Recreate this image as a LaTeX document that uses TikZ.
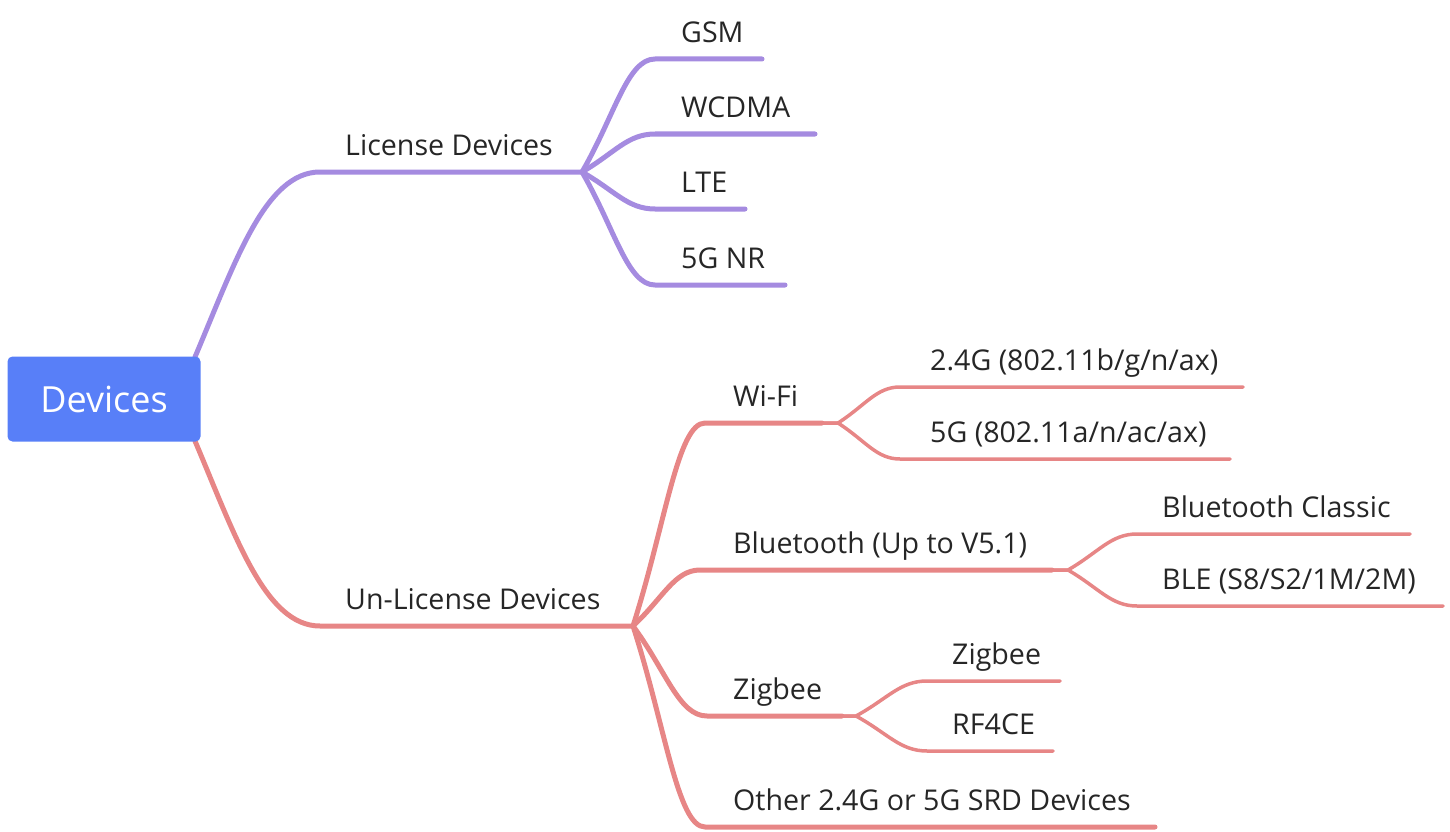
\documentclass[tikz,border=0pt]{standalone}
\usepackage{fontspec}
\setmainfont{Open Sans}
\usetikzlibrary{calc}
\definecolor{pur}{RGB}{165,139,224}
\definecolor{pnk}{RGB}{231,134,134}
\definecolor{rootblue}{RGB}{88,127,248}
\definecolor{txt}{RGB}{38,38,38}
\begin{document}
\begin{tikzpicture}[x=1pt,y=-1pt]
\useasboundingbox (0,0) rectangle (1450,832);
\tikzset{
 curve/.style n args={3}{to path={let \p1=(\tikztostart), \p2=(\tikztotarget) in .. controls ({\x1+#1*(\x2-\x1)},{\y1+#2*(\y2-\y1)}) and ({\x2-#3*(\x2-\x1)},\y2) .. (\tikztotarget)}},
 rootcurve/.style={curve={0.32}{0.51}{0.44}},
 branch/.style={curve={0.45}{0.5}{0.38}},
 thickline/.style={line width=5pt, line cap=round, line join=round},
 thinline/.style={line width=3.5pt, line cap=round, line join=round},
 lbl/.style={anchor=base west, inner sep=0pt, text=txt, font=\fontsize{28.6}{32}\selectfont},
 rootbox/.style={fill=rootblue, rounded corners=5pt, minimum width=193pt, minimum height=85pt, inner sep=0pt, text=white, font=\fontsize{36}{40}\selectfont}
}
% coordinates
\coordinate (r1) at (195,357);
\coordinate (r2) at (195,441);
\coordinate (licS) at (320,172); \coordinate (licJ) at (582,172);
\coordinate (gsmS) at (655,59);  \coordinate (gsmE) at (762,59);
\coordinate (wcdS) at (655,134); \coordinate (wcdE) at (815,134);
\coordinate (lteS) at (655,209); \coordinate (lteE) at (745,209);
\coordinate (nrS) at (655,285);  \coordinate (nrE) at (785,285);
\coordinate (unS) at (320,626);  \coordinate (unJ) at (633,626);
\coordinate (wifiS) at (705,423); \coordinate (wifiE) at (822,423); \coordinate (wifiJ) at (838,423);
\coordinate (btS) at (700,570);  \coordinate (btE) at (1052,570); \coordinate (btJ) at (1068,570);
\coordinate (zgS) at (707,716);  \coordinate (zgE) at (842,716); \coordinate (zgJ) at (856,716);
\coordinate (othS) at (705,827); \coordinate (othE) at (1155,827);
\coordinate (w24S) at (900,387); \coordinate (w24E) at (1243,387);
\coordinate (w5S) at (900,459);  \coordinate (w5E) at (1230,459);
\coordinate (bcS) at (1137,534); \coordinate (bcE) at (1410,534);
\coordinate (bleS) at (1137,606); \coordinate (bleE) at (1443,606);
\coordinate (zg2S) at (927,681); \coordinate (zg2E) at (1060,681);
\coordinate (rfS) at (927,751);  \coordinate (rfE) at (1053,751);
% purple branch
\draw[pur, thickline] (r1) to[rootcurve] (licS) -- (licJ);
\draw[pur, thickline] (licJ) to[branch] (gsmS) -- (gsmE);
\draw[pur, thickline] (licJ) to[branch] (wcdS) -- (wcdE);
\draw[pur, thickline] (licJ) to[branch] (lteS) -- (lteE);
\draw[pur, thickline] (licJ) to[branch] (nrS) -- (nrE);
% pink branch
\draw[pnk, thickline] (r2) to[rootcurve] (unS) -- (unJ);
\draw[pnk, thickline] (unJ) to[branch] (wifiS) -- (wifiE);
\draw[pnk, thickline] (unJ) to[branch] (btS) -- (btE);
\draw[pnk, thickline] (unJ) to[branch] (zgS) -- (zgE);
\draw[pnk, thickline] (unJ) to[branch] (othS) -- (othE);
\draw[pnk, thinline] (wifiE) -- (wifiJ) to[branch] (w24S) -- (w24E);
\draw[pnk, thinline] (wifiE) -- (wifiJ) to[branch] (w5S) -- (w5E);
\draw[pnk, thinline] (btE) -- (btJ) to[branch] (bcS) -- (bcE);
\draw[pnk, thinline] (btE) -- (btJ) to[branch] (bleS) -- (bleE);
\draw[pnk, thinline] (zgE) -- (zgJ) to[branch] (zg2S) -- (zg2E);
\draw[pnk, thinline] (zgE) -- (zgJ) to[branch] (rfS) -- (rfE);
% root
\node[rootbox] (root) at (104,399) {Devices};
% labels
\node[lbl] (lic) at (345,155.5) {License Devices};
\node[lbl] (gsm) at (681,42.5) {GSM};
\node[lbl] (wcd) at (681,117.5) {WCDMA};
\node[lbl] (lte) at (681,192.5) {LTE};
\node[lbl] (nr) at (681,268.5) {5G NR};
\node[lbl] (un) at (345,609) {Un-License Devices};
\node[lbl] (wifi) at (733,406.5) {Wi-Fi};
\node[lbl] (bt) at (733,553.5) {Bluetooth (Up to V5.1)};
\node[lbl] (zg) at (733,699.5) {Zigbee};
\node[lbl] (oth) at (733,810.5) {Other 2.4G or 5G SRD Devices};
\node[lbl] (w24) at (930,370.5) {2.4G (802.11b/g/n/ax)};
\node[lbl] (w5) at (930,442.5) {5G (802.11a/n/ac/ax)};
\node[lbl] (bc) at (1162,517.5) {Bluetooth Classic};
\node[lbl] (ble) at (1162,589.5) {BLE (S8/S2/1M/2M)};
\node[lbl] (zg2) at (952,664.5) {Zigbee};
\node[lbl] (rf) at (952,734.5) {RF4CE};
\end{tikzpicture}
\end{document}
